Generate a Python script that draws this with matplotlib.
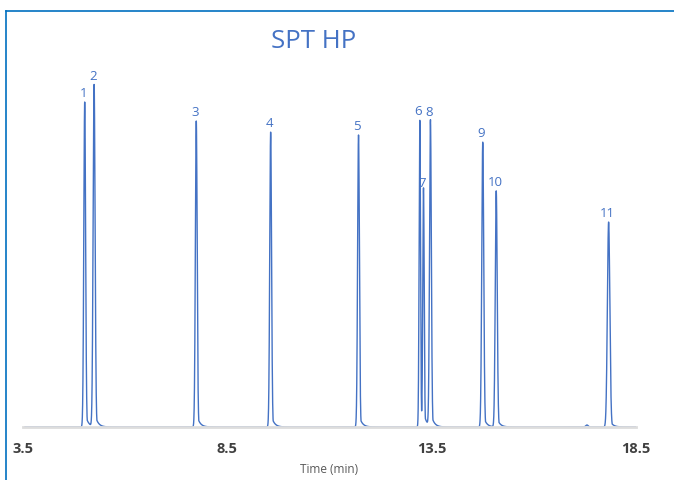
import numpy as np
import matplotlib.pyplot as plt
from matplotlib.lines import Line2D

# peak table
peak_labels = ['1', '2', '3', '4', '5', '6', '7', '8', '9', '10', '11']
peak_times = [5.01, 5.24, 7.74, 9.56, 11.71, 13.21, 13.30, 13.47, 14.75, 15.08, 17.83]
peak_heights = [325, 342, 306, 295, 292, 307, 235, 306, 285, 236, 205]
peak_widths = [0.022, 0.024, 0.022, 0.022, 0.022, 0.017, 0.017, 0.022, 0.024, 0.024, 0.030]
minor_times = [17.30]
minor_heights = [2]
tick_values = [3.5, 8.5, 13.5, 18.5]

blue = '#4472C4'

t = np.linspace(3.55, 18.5, 8000)
signal = np.zeros_like(t)
for tr, h, w in zip(peak_times + minor_times, peak_heights + minor_heights,
                    peak_widths + [0.03]):
    g = np.exp(-0.5 * ((t - tr) / w) ** 2)
    tail = np.where(t > tr, 0.05 * np.exp(-(t - tr) / 0.07), 0)
    signal += h * np.maximum(g, tail)

fig = plt.figure(figsize=(6.74, 4.81), dpi=100)
ax = fig.add_axes([23 / 674, 1 - 428 / 481, (636 - 23) / 674, (428 - 60) / 481])

ax.plot(t, signal, color=blue, lw=1.0)
for lab, tr, h in zip(peak_labels, peak_times, peak_heights):
    ax.annotate(lab, (tr, h), xytext=(-1, 2), textcoords='offset points',
                ha='center', va='bottom', color=blue, fontsize=9.5,
                family='Open Sans')

ax.set_xlim(3.5, 18.5)
ax.set_ylim(0, 368)
ax.set_xticks(tick_values)
ax.set_xticklabels([str(v) for v in tick_values], fontsize=10.5,
                   fontweight='bold', color='#404040', family='Open Sans')
ax.tick_params(axis='x', length=0, pad=10)
ax.set_yticks([])
for s in ['top', 'right', 'left']:
    ax.spines[s].set_visible(False)
ax.spines['bottom'].set_color('#DDDDDD')
ax.spines['bottom'].set_linewidth(2)
ax.set_xlabel('Time (min)', fontsize=8.5, color='#595959', family='Open Sans', labelpad=5)

fig.text(314 / 674, 1 - 42 / 481, 'SPT HP', ha='center', va='center',
         fontsize=18.5, color=blue, family='Open Sans')

# outer frame (top and left edges visible)
fig.add_artist(Line2D([6 / 674, 1], [1 - 12 / 481] * 2, color='#0070C0', lw=1.2,
                      transform=fig.transFigure))
fig.add_artist(Line2D([6 / 674] * 2, [0, 1 - 12 / 481], color='#0070C0', lw=1.2,
                      transform=fig.transFigure))

fig.savefig('out.png', dpi=100)
